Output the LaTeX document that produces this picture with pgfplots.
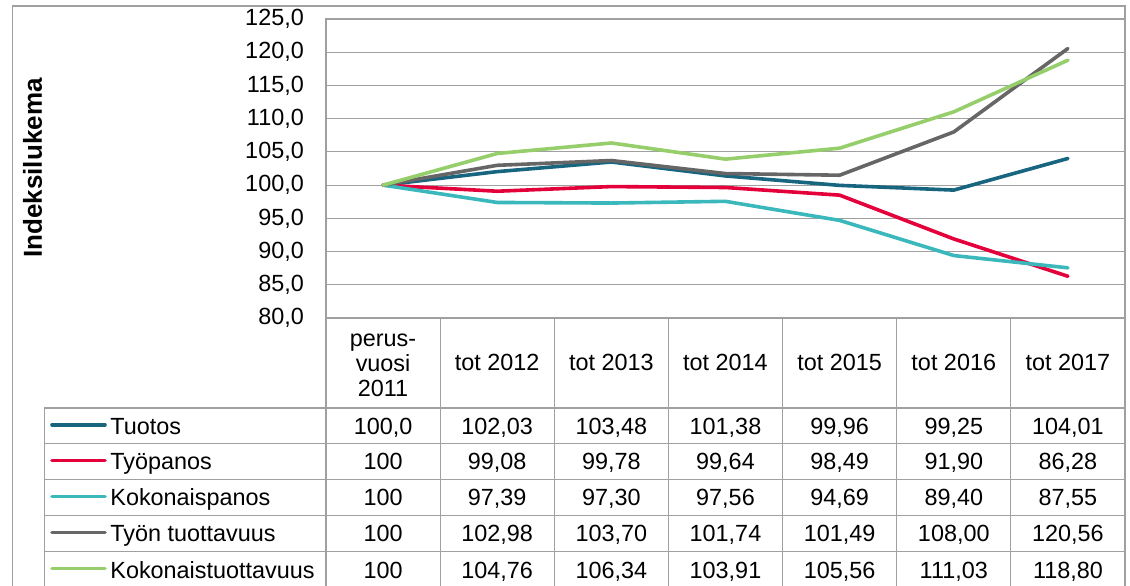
\documentclass[border=0pt]{standalone}
\usepackage{pgfplots}
\pgfplotsset{compat=1.18}
\usepackage{fontspec}
\setmainfont{Liberation Sans}
\definecolor{cTuo}{HTML}{17657F}
\definecolor{cTyo}{HTML}{E4003A}
\definecolor{cKok}{HTML}{3BB8BC}
\definecolor{cTt}{HTML}{666666}
\definecolor{cKt}{HTML}{95CE6B}
\definecolor{gridc}{HTML}{A0A0A0}
\newcommand{\pp}[2]{({(#1)*0.5pt},{(585-(#2))*0.5pt})}
\newcommand{\fs}{\fontsize{11.7}{13}\selectfont}
\newcommand{\cell}[3]{\node[anchor=base] at \pp{383.07+114.14*#1}{#2+8.5} {#3};}
\newcommand{\row}[8]{\cell{0}{#1}{#2}\cell{1}{#1}{#3}\cell{2}{#1}{#4}\cell{3}{#1}{#5}\cell{4}{#1}{#6}\cell{5}{#1}{#7}\cell{6}{#1}{#8}}
\begin{document}
\begin{tikzpicture}
\fs
\useasboundingbox (0,0) rectangle (565pt,292.5pt);
\draw[gridc, line width=0.6pt] \pp{12.3}{6} rectangle \pp{1125}{600};
\begin{axis}[at={(163pt,133.5pt)}, anchor=south west, scale only axis,
  width=399.5pt, height=149.5pt,
  xmin=-0.5, xmax=6.5, ymin=80, ymax=125,
  ytick={80,85,...,125}, xtick=\empty,
  ymajorgrids, grid style={gridc, line width=0.6pt},
  axis line style={gridc, line width=0.6pt},
  major tick length=0pt,
  every tick label/.append style={font=\fs},
  yticklabel style={xshift=-7pt, /pgf/number format/fixed, /pgf/number format/fixed zerofill,
    /pgf/number format/precision=1, /pgf/number format/use comma,
    /pgf/number format/assume math mode=true},
  every axis plot/.append style={line width=1.8pt, line cap=round, line join=round, no markers},
  clip=false]
\addplot[cTuo] coordinates {(0,100.0) (1,102.03) (2,103.48) (3,101.38) (4,99.96) (5,99.25) (6,104.01)};
\addplot[cTyo] coordinates {(0,100) (1,99.08) (2,99.78) (3,99.64) (4,98.49) (5,91.90) (6,86.28)};
\addplot[cKok] coordinates {(0,100) (1,97.39) (2,97.30) (3,97.56) (4,94.69) (5,89.40) (6,87.55)};
\addplot[cTt] coordinates {(0,100) (1,102.98) (2,103.70) (3,101.74) (4,101.49) (5,108.00) (6,120.56)};
\addplot[cKt] coordinates {(0,100) (1,104.76) (2,106.34) (3,103.91) (4,105.56) (5,111.03) (6,118.80)};
\end{axis}
% y title
\node[rotate=90, font=\fontsize{13}{15}\selectfont\bfseries] at \pp{32.5}{168} {Indeksilukema};
% table lines
\begin{scope}[gridc, line width=0.6pt]
\foreach \y in {408,443.5,479.3,515.5,551.3,588} {\draw \pp{44.3}{\y} -- \pp{1125}{\y};}
\draw \pp{44.3}{408} -- \pp{44.3}{600};
\foreach \k in {0,...,6} {\draw \pp{326+114.14*\k}{318} -- \pp{326+114.14*\k}{600};}
\end{scope}
% header
\node[anchor=base] at \pp{383.07}{346.5} {perus-};
\node[anchor=base] at \pp{383.07}{371.5} {vuosi};
\node[anchor=base] at \pp{383.07}{396.5} {2011};
\foreach \t [count=\k] in {tot 2012,tot 2013,tot 2014,tot 2015,tot 2016,tot 2017}
  {\node[anchor=base] at \pp{383.07+114.14*\k}{370.5} {\t};}
% legend entries
\foreach \c/\n/\yy in {cTuo/Tuotos/425.7, cTyo/Työpanos/461.4, cKok/Kokonaispanos/497.4, cTt/Työn tuottavuus/533.4, cKt/Kokonaistuottavuus/569.5}
{
  \draw[\c, line width=1.8pt, line cap=round] \pp{52}{\yy-1} -- \pp{105}{\yy-1};
  \node[anchor=base west, inner sep=0pt] at \pp{110}{\yy+8.5} {\n};
}
% values
\row{425.7}{100,0}{102,03}{103,48}{101,38}{99,96}{99,25}{104,01}
\row{461.4}{100}{99,08}{99,78}{99,64}{98,49}{91,90}{86,28}
\row{497.4}{100}{97,39}{97,30}{97,56}{94,69}{89,40}{87,55}
\row{533.4}{100}{102,98}{103,70}{101,74}{101,49}{108,00}{120,56}
\row{569.5}{100}{104,76}{106,34}{103,91}{105,56}{111,03}{118,80}
\end{tikzpicture}
\end{document}
